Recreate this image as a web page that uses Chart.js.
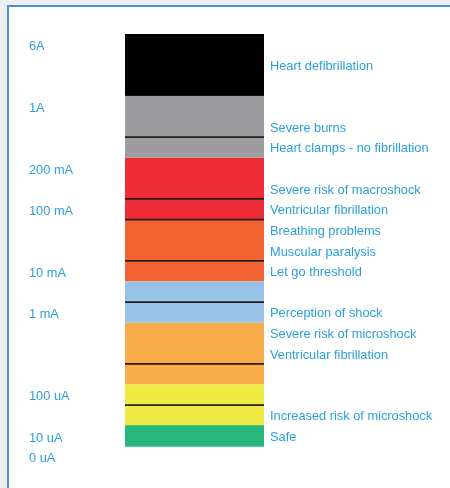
<!DOCTYPE html>
<html>
<head>
<meta charset="utf-8">
<script src="https://cdn.jsdelivr.net/npm/chart.js@4"></script>
<style>
  html, body { margin: 0; padding: 0; background: #efeeee; width: 450px; height: 488px; overflow: hidden; }
  #frame { position: absolute; left: 7px; top: 5px; width: 470px; height: 500px; background: #ffffff;
           border-left: 2px solid #4a90dc; border-top: 2px solid #4a90dc; }
  #wrap { position: absolute; left: 0; top: 0; width: 450px; height: 488px; }
</style>
</head>
<body>
<div id="frame"></div>
<div id="wrap"><canvas id="c" width="450" height="488"></canvas></div>
<script>
// ---- data ----
const categories = ['Current'];
// stacked segments, bottom to top (units of the scale)
const segmentValues = [1, 1, 1, 1, 2, 1, 1, 1, 2, 1, 2, 1, 2, 3];
const segmentColors = ['#27b77c', '#efeb42', '#efeb42', '#f9ac4a', '#f9ac4a', '#98c3e6', '#98c3e6',
                       '#f26532', '#f26532', '#ee2d36', '#ee2d36', '#9d9da0', '#9d9da0', '#000000'];
// levels where a dark divider line is drawn
const dividerLevels = [2, 4, 7, 9, 11, 12, 15];
// left labels (current levels)
const currentTickValues = [-0.5, 0.5, 2.5, 6.5, 8.5, 11.5, 13.5, 16.5, 19.5];
const currentTickLabels = ['0 uA', '10 uA', '100 uA', '1 mA', '10 mA', '100 mA', '200 mA', '1A', '6A'];
// right labels (effects)
const effectTickValues = [0.5, 1.5, 4.5, 5.5, 6.5, 8.5, 9.5, 10.5, 11.5, 12.5, 14.5, 15.5, 18.5];
const effectTickLabels = ['Safe', 'Increased risk of microshock', 'Ventricular fibrillation',
  'Severe risk of microshock', 'Perception of shock', 'Let go threshold', 'Muscular paralysis',
  'Breathing problems', 'Ventricular fibrillation', 'Severe risk of macroshock',
  'Heart clamps - no fibrillation', 'Severe burns', 'Heart defibrillation'];

// ---- build ----
const textColor = '#2aa0dc';
const font = { family: '"Liberation Sans", Arial, sans-serif', size: 12.8 };
let acc = 0;
const datasets = segmentValues.map((v, i) => {
  const bottom = acc, top = acc + v;
  acc = top;
  return {
    data: [v],
    backgroundColor: segmentColors[i],
    borderColor: '#231f20',
    borderWidth: { top: dividerLevels.includes(top) ? 1.3 : 0, bottom: dividerLevels.includes(bottom) ? 1.3 : 0, left: 0, right: 0 },
    borderSkipped: false,
    inflateAmount: 0.4,
    barPercentage: 1,
    categoryPercentage: 1,
    stack: 's'
  };
});

function tickSetter(vals) {
  return (axis) => { axis.ticks = vals.map(v => ({ value: v })); };
}
function labelFor(vals, labels) {
  return (value) => { const i = vals.findIndex(x => Math.abs(x - value) < 1e-6); return i >= 0 ? labels[i] : ''; };
}

new Chart(document.getElementById('c'), {
  type: 'bar',
  data: { labels: categories, datasets },
  options: {
    responsive: false,
    animation: false,
    layout: { padding: { left: 29, right: 0, top: 34, bottom: 21 } },
    plugins: { legend: { display: false }, tooltip: { enabled: false } },
    scales: {
      x: { display: false, stacked: true },
      y: {
        stacked: true, min: -1, max: 20, position: 'left',
        grid: { display: false, drawTicks: false }, border: { display: false },
        afterBuildTicks: tickSetter(currentTickValues),
        afterFit: (s) => { s.width = 96; },
        ticks: { color: textColor, font, crossAlign: 'far', padding: 0, autoSkip: false, labelOffset: 2,
                 callback: labelFor(currentTickValues, currentTickLabels) }
      },
      y2: {
        min: -1, max: 20, position: 'right',
        grid: { display: false, drawTicks: false }, border: { display: false },
        afterBuildTicks: tickSetter(effectTickValues),
        afterFit: (s) => { s.width = 186; },
        ticks: { color: textColor, font, padding: 6, autoSkip: false, labelOffset: 1.5,
                 callback: labelFor(effectTickValues, effectTickLabels) }
      }
    }
  }
});
</script>
</body>
</html>
